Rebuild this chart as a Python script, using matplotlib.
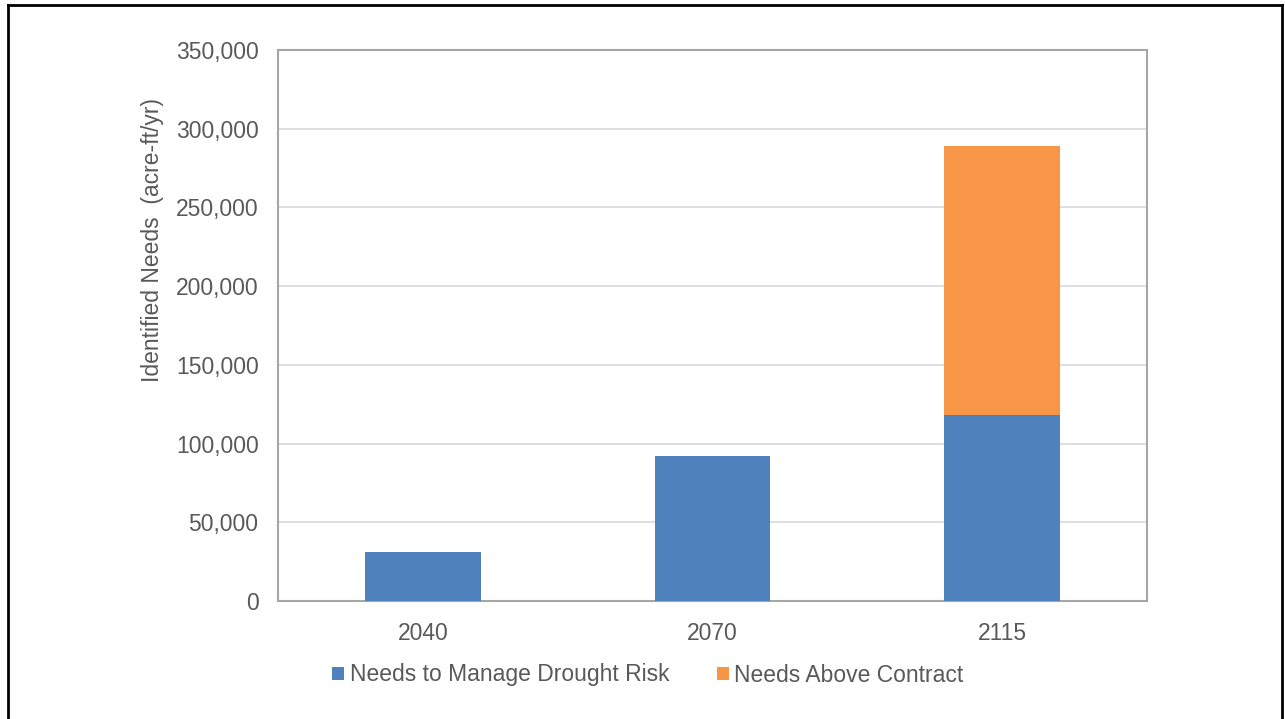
import matplotlib
matplotlib.use("Agg")
import matplotlib.pyplot as plt
from matplotlib.lines import Line2D
from matplotlib.ticker import FuncFormatter

plt.rcParams['font.family'] = ['Liberation Sans', 'DejaVu Sans']

# data
years = ["2040", "2070", "2115"]
drought_risk = [31000, 92000, 118000]
above_contract = [0, 0, 171000]
series_names = ["Needs to Manage Drought Risk", "Needs Above Contract"]
y_ticks = [0, 50000, 100000, 150000, 200000, 250000, 300000, 350000]

blue = "#4F81BD"
orange = "#F79646"
text_gray = "#595959"
W, H = 1285, 719

fig = plt.figure(figsize=(12.85, 7.19), dpi=100)
ax = fig.add_axes([278 / W, 1 - 601 / H, 869 / W, 551 / H])

x = range(len(years))
ax.bar(x, drought_risk, width=0.4, color=blue, label=series_names[0], zorder=3)
ax.bar(x, above_contract, width=0.4, bottom=drought_risk, color=orange,
       label=series_names[1], zorder=3)

ax.set_xlim(-0.5, 2.5)
ax.set_ylim(0, 350000)
ax.set_yticks(y_ticks)
ax.yaxis.set_major_formatter(FuncFormatter(lambda v, p: f"{int(v):,}"))
ax.set_xticks(list(x))
ax.set_xticklabels(years)
ax.tick_params(axis="both", length=0, labelsize=16.5, colors=text_gray)
ax.tick_params(axis="y", pad=14)
ax.tick_params(axis="x", pad=15)
ax.grid(axis="y", color="#D9D9D9", linewidth=1.2, zorder=0)
for s in ax.spines.values():
    s.set_color("#A6A6A6")
    s.set_linewidth(1.5)

# y label sits above the axes centre in the reference
fig.text(153 / W, 1 - 240 / H, "Identified Needs  (acre-ft/yr)", rotation=90,
         ha="center", va="center", fontsize=16.5, color=text_gray)

leg = fig.legend(loc="center", bbox_to_anchor=(648 / W, 1 - 675 / H), ncol=2,
                 frameon=False, fontsize=16.5, handlelength=0.5, handleheight=0.5,
                 handletextpad=0.25, columnspacing=2.1)
for t in leg.get_texts():
    t.set_color(text_gray)

# black outer frame of the page
for xs, ys in [([8 / W, 8 / W], [0, 1 - 5 / H]),
               ([8 / W, 1282 / W], [1 - 5 / H, 1 - 5 / H]),
               ([1282 / W, 1282 / W], [0, 1 - 5 / H])]:
    fig.add_artist(Line2D(xs, ys, color="black", linewidth=2, transform=fig.transFigure))

fig.savefig("out.png", dpi=100)
